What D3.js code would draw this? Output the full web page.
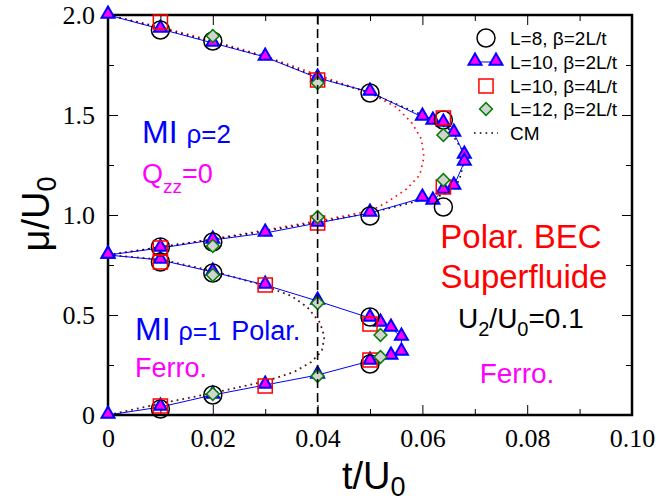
<!DOCTYPE html>
<html>
<head>
<meta charset="utf-8">
<script src="https://cdn.jsdelivr.net/npm/d3@7"></script>
<style>
  html, body { margin: 0; padding: 0; background: #fff; }
  svg { display: block; }
</style>
</head>
<body>
<svg id="chart" width="659" height="502"></svg>
<script>
// ---------------- DATA ----------------
const xTicks = [0, 0.02, 0.04, 0.06, 0.08, 0.10];
const xTickLabels = ["0", "0.02", "0.04", "0.06", "0.08", "0.10"];
const xMinorTicks = [0.01, 0.03, 0.05, 0.07, 0.09];
const yTicks = [0, 0.5, 1.0, 1.5, 2.0];
const yTickLabels = ["0", "0.5", "1.0", "1.5", "2.0"];
const yMinorTicks = [0.25, 0.75, 1.25, 1.75];

// L=10, beta=2L/t (triangles, connected) – rho=2 lobe
const triRho2T  = [0, 0.01, 0.02, 0.03, 0.04, 0.05, 0.060, 0.062, 0.064, 0.066, 0.068, 0.068, 0.066, 0.064, 0.062, 0.060, 0.05, 0.04, 0.03, 0.02, 0.01, 0];
const triRho2Mu = [2.0, 1.93, 1.86, 1.79, 1.685, 1.615, 1.49, 1.47, 1.46, 1.41, 1.30, 1.265, 1.145, 1.125, 1.07, 1.085, 1.01, 0.96, 0.91, 0.875, 0.835, 0.80];
// rho=1 lobe
const triRho1T  = [0, 0.01, 0.02, 0.03, 0.04, 0.05, 0.052, 0.054, 0.056, 0.056, 0.054, 0.05, 0.04, 0.03, 0.02, 0.01, 0];
const triRho1Mu = [0.80, 0.775, 0.715, 0.65, 0.57, 0.485, 0.46, 0.435, 0.39, 0.315, 0.295, 0.27, 0.20, 0.15, 0.10, 0.04, 0.0];

// L=8, beta=2L/t (circles)
const circT  = [0.01, 0.02, 0.05, 0.064, 0.064, 0.05, 0.02, 0.01, 0.01, 0.02, 0.05, 0.05, 0.02, 0.01];
const circMu = [1.925, 1.87, 1.61, 1.475, 1.04, 0.995, 0.865, 0.84, 0.765, 0.71, 0.49, 0.255, 0.10, 0.03];

// L=10, beta=4L/t (squares)
const sqT  = [0.01, 0.04, 0.064, 0.064, 0.04, 0.01, 0.01, 0.03, 0.05, 0.05, 0.03, 0.01];
const sqMu = [1.965, 1.675, 1.485, 1.14, 0.96, 0.835, 0.765, 0.65, 0.455, 0.275, 0.145, 0.045];

// L=12, beta=2L/t (diamonds)
const diaT  = [0.02, 0.04, 0.064, 0.064, 0.04, 0.02, 0.02, 0.04, 0.052, 0.052, 0.04, 0.02];
const diaMu = [1.895, 1.66, 1.40, 1.175, 0.99, 0.845, 0.70, 0.56, 0.40, 0.29, 0.195, 0.105];

// CM (dotted) curves
const cmBlackT  = [0, 0.01, 0.02, 0.03, 0.04, 0.05, 0.06, 0.065, 0.0675, 0.068, 0.067, 0.064, 0.06, 0.05, 0.04, 0.03, 0.02, 0.01, 0];
const cmBlackMu = [2.0, 1.935, 1.865, 1.79, 1.69, 1.61, 1.50, 1.43, 1.33, 1.27, 1.17, 1.10, 1.075, 1.01, 0.965, 0.92, 0.878, 0.84, 0.80];
const cmRedT  = [0, 0.01, 0.02, 0.03, 0.04, 0.05, 0.055, 0.058, 0.0598, 0.0603, 0.0595, 0.057, 0.053, 0.05, 0.04, 0.03, 0.02, 0.01, 0];
const cmRedMu = [2.0, 1.94, 1.87, 1.795, 1.70, 1.61, 1.54, 1.46, 1.38, 1.29, 1.20, 1.13, 1.06, 1.02, 0.97, 0.925, 0.88, 0.84, 0.80];
const cmRho1T  = [0, 0.01, 0.02, 0.03, 0.035, 0.038, 0.0405, 0.0413, 0.0408, 0.0388, 0.0355, 0.03, 0.02, 0.01, 0];
const cmRho1Mu = [0.80, 0.778, 0.72, 0.645, 0.595, 0.54, 0.46, 0.39, 0.32, 0.265, 0.215, 0.168, 0.11, 0.057, 0.0];

const legendLabels = ["L=8, β=2L/t", "L=10, β=2L/t", "L=10, β=4L/t", "L=12, β=2L/t", "CM"];

// ---------------- DRAW ----------------
const svg = d3.select("#chart");
const x = d3.scaleLinear().domain([0, 0.1]).range([108, 632]);
const y = d3.scaleLinear().domain([0, 2]).range([415, 15]);
const zip = (a, b) => a.map((v, i) => [v, b[i]]);
const line = d3.line().x(d => x(d[0])).y(d => y(d[1]));

const serif = "'Liberation Serif', 'Times New Roman', serif";
const sans = "'Liberation Sans', Arial, Helvetica, sans-serif";

// CM dotted curves
svg.append("path").attr("d", line(zip(cmRedT, cmRedMu)))
  .attr("fill", "none").attr("stroke", "#ff0000").attr("stroke-width", 1.6)
  .attr("stroke-dasharray", "1.6,4.2");
svg.append("path").attr("d", line(zip(cmBlackT, cmBlackMu)))
  .attr("fill", "none").attr("stroke", "#000").attr("stroke-width", 1.6)
  .attr("stroke-dasharray", "1.6,4.2");
svg.append("path").attr("d", line(zip(cmRho1T, cmRho1Mu)))
  .attr("fill", "none").attr("stroke", "#5a1414").attr("stroke-width", 1.8)
  .attr("stroke-dasharray", "1.8,4");

// QMC L=10 lines
[zip(triRho2T, triRho2Mu), zip(triRho1T, triRho1Mu)].forEach(pts => {
  svg.append("path").attr("d", line(pts))
    .attr("fill", "none").attr("stroke", "#0000ff").attr("stroke-width", 1);
});

// Axes frame + ticks
function fmtFrom(ticks, labels) { return d => labels[ticks.findIndex(t => Math.abs(t - d) < 1e-9)]; }

const gx = svg.append("g").attr("transform", "translate(0,415)")
  .call(d3.axisBottom(x).tickValues(xTicks).tickFormat(fmtFrom(xTicks, xTickLabels)).tickSize(-10).tickPadding(14));
const gxm = svg.append("g").attr("transform", "translate(0,415)")
  .call(d3.axisBottom(x).tickValues(xMinorTicks).tickFormat("").tickSize(-6));
const gxt = svg.append("g").attr("transform", "translate(0,15)")
  .call(d3.axisTop(x).tickValues(xTicks).tickFormat("").tickSize(-10));
const gxtm = svg.append("g").attr("transform", "translate(0,15)")
  .call(d3.axisTop(x).tickValues(xMinorTicks).tickFormat("").tickSize(-6));
const gy = svg.append("g").attr("transform", "translate(108,0)")
  .call(d3.axisLeft(y).tickValues(yTicks).tickFormat(fmtFrom(yTicks, yTickLabels)).tickSize(-10).tickPadding(13));
const gym = svg.append("g").attr("transform", "translate(108,0)")
  .call(d3.axisLeft(y).tickValues(yMinorTicks).tickFormat("").tickSize(-6));
const gyr = svg.append("g").attr("transform", "translate(632,0)")
  .call(d3.axisRight(y).tickValues(yTicks).tickFormat("").tickSize(-10));
const gyrm = svg.append("g").attr("transform", "translate(632,0)")
  .call(d3.axisRight(y).tickValues(yMinorTicks).tickFormat("").tickSize(-6));

[gx, gxm, gxt, gxtm, gy, gym, gyr, gyrm].forEach(g => {
  g.attr("font-family", null).attr("font-size", null);
  g.select(".domain").remove();
  g.selectAll(".tick line").attr("stroke", "#000").attr("stroke-width", 1);
  g.selectAll("text").style("font-family", serif).style("font-size", "26px").attr("fill", "#000");
});

svg.append("rect").attr("x", x(0)).attr("y", y(2)).attr("width", x(0.1) - x(0)).attr("height", y(0) - y(2))
  .attr("fill", "none").attr("stroke", "#000").attr("stroke-width", 2.5);

// Markers
const triPath = d3.symbol().type(d3.symbolTriangle).size(72)();
const sqPath = d3.symbol().type(d3.symbolSquare).size(200)();
const diaPath = d3.symbol().type(d3.symbolSquare).size(82)();

function drawTri(g, pts) {
  g.selectAll(null).data(pts).enter().append("path")
    .attr("d", triPath)
    .attr("transform", d => `translate(${x(d[0])},${y(d[1]) - 1})`)
    .attr("fill", "#ff00ff").attr("stroke", "#0000ff").attr("stroke-width", 2);
}
const gm = svg.append("g");
drawTri(gm, zip(triRho2T, triRho2Mu));
drawTri(gm, zip(triRho1T, triRho1Mu));

gm.selectAll(null).data(zip(circT, circMu)).enter().append("circle")
  .attr("cx", d => x(d[0])).attr("cy", d => y(d[1])).attr("r", 9)
  .attr("fill", "none").attr("stroke", "#000").attr("stroke-width", 1.5);

gm.selectAll(null).data(zip(sqT, sqMu)).enter().append("path")
  .attr("d", sqPath)
  .attr("transform", d => `translate(${x(d[0])},${y(d[1])})`)
  .attr("fill", "none").attr("stroke", "#ff0000").attr("stroke-width", 1.5);

gm.selectAll(null).data(zip(diaT, diaMu)).enter().append("path")
  .attr("d", diaPath)
  .attr("transform", d => `translate(${x(d[0])},${y(d[1])}) rotate(45)`)
  .attr("fill", "#d3d3d3").attr("stroke", "#008000").attr("stroke-width", 1.5);

// dashed vertical line at t=0.04
svg.append("line").attr("x1", x(0.04)).attr("x2", x(0.04)).attr("y1", y(2)).attr("y2", y(0))
  .attr("stroke", "#000").attr("stroke-width", 1.6).attr("stroke-dasharray", "9,5");

// Legend
const legY = [38, 62, 86, 109, 133];
const lg = svg.append("g");
lg.append("circle").attr("cx", 486).attr("cy", legY[0]).attr("r", 9)
  .attr("fill", "none").attr("stroke", "#000").attr("stroke-width", 1.5);
lg.append("line").attr("x1", 475).attr("x2", 496).attr("y1", legY[1]).attr("y2", legY[1])
  .attr("stroke", "#0000ff").attr("stroke-width", 1);
[475, 496].forEach(px => lg.append("path").attr("d", triPath)
  .attr("transform", `translate(${px},${legY[1] - 1})`)
  .attr("fill", "#ff00ff").attr("stroke", "#0000ff").attr("stroke-width", 2));
lg.append("path").attr("d", sqPath).attr("transform", `translate(486,${legY[2]})`)
  .attr("fill", "none").attr("stroke", "#ff0000").attr("stroke-width", 1.5);
lg.append("path").attr("d", diaPath).attr("transform", `translate(486,${legY[3]}) rotate(45)`)
  .attr("fill", "#d3d3d3").attr("stroke", "#008000").attr("stroke-width", 1.5);
lg.append("line").attr("x1", 474).attr("x2", 498).attr("y1", legY[4]).attr("y2", legY[4])
  .attr("stroke", "#000").attr("stroke-width", 1.6).attr("stroke-dasharray", "1.6,4.2");
legendLabels.forEach((t, i) => lg.append("text").attr("x", 510).attr("y", legY[i]).attr("dy", "0.36em")
  .attr("font-family", sans).attr("font-size", 19).attr("fill", "#000").text(t));

// Annotations
function txt(xp, yp, size, color) {
  return svg.append("text").attr("x", xp).attr("y", yp).attr("font-family", sans)
    .attr("font-size", size).attr("fill", color);
}
let t1 = txt(142, 143, 32, "#0000ff");
t1.append("tspan").text("MI ");
t1.append("tspan").attr("font-size", 26).text("ρ=2");

let t2 = txt(142, 183, 27, "#ff00ff");
t2.append("tspan").text("Q");
t2.append("tspan").attr("font-size", 19).attr("dy", 10).text("zz");
t2.append("tspan").attr("dy", -10).text("=0");

let t3 = txt(135, 340, 32, "#0000ff");
t3.append("tspan").text("MI");
t3.append("tspan").attr("font-size", 25).attr("dx", 8).text("ρ=1");
t3.append("tspan").attr("font-size", 27).attr("dx", 10).text("Polar.");

txt(135, 377, 27, "#ff00ff").text("Ferro.");

txt(521, 248, 33, "#ff0000").attr("text-anchor", "middle").text("Polar. BEC");
txt(524, 288, 33, "#ff0000").attr("text-anchor", "middle").text("Superfluide");

let t4 = txt(458, 328, 28, "#000");
t4.append("tspan").text("U");
t4.append("tspan").attr("font-size", 20).attr("dy", 8).text("2");
t4.append("tspan").attr("dy", -8).text("/U");
t4.append("tspan").attr("font-size", 20).attr("dy", 8).text("0");
t4.append("tspan").attr("dy", -8).text("=0.1");

txt(517, 383, 28, "#ff00ff").attr("text-anchor", "middle").text("Ferro.");

// Axis titles
let xt = txt(342, 489, 38, "#000");
xt.append("tspan").text("t/U");
xt.append("tspan").attr("font-size", 27).attr("dy", 7).text("0");

let yt = svg.append("text").attr("transform", "translate(49,214) rotate(-90)")
  .attr("text-anchor", "middle").attr("font-family", sans).attr("font-size", 38).attr("fill", "#000");
yt.append("tspan").text("μ/U");
yt.append("tspan").attr("font-size", 27).attr("dy", 7).text("0");
</script>
</body>
</html>
